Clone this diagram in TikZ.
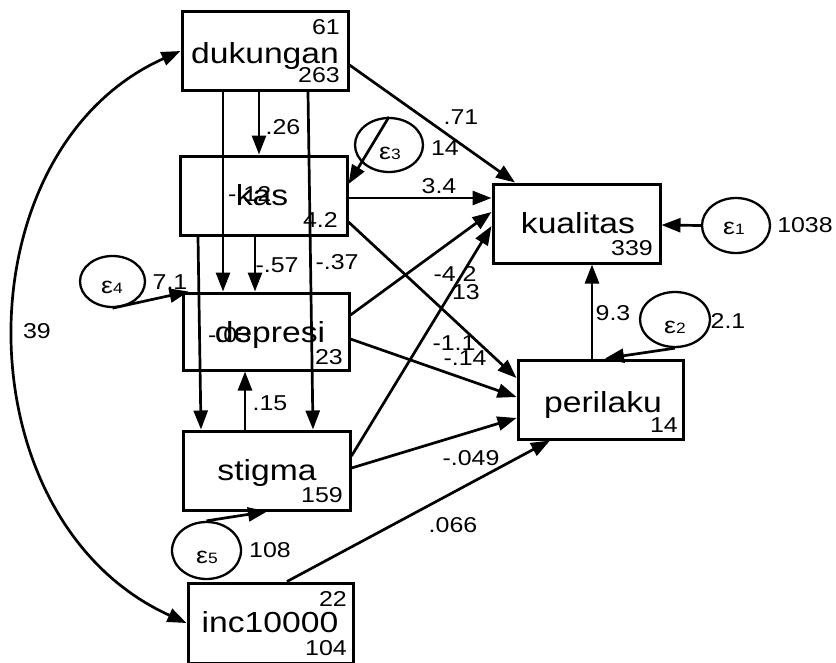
\documentclass[tikz,border=0pt]{standalone}
\usepackage{fontspec}
\setmainfont[FakeStretch=1.16]{Liberation Sans}
\usetikzlibrary{arrows.meta,shapes.geometric}
\begin{document}
\begin{tikzpicture}[x=1pt,y=-1pt,
  box/.style={draw,line width=3pt,inner sep=0pt,minimum width=166pt,minimum height=79pt},
  err/.style={draw,ellipse,line width=2.3pt,inner sep=0pt,minimum width=69pt,minimum height=55pt},
  vname/.style={inner sep=0pt,anchor=base,font=\fontsize{29}{32}\selectfont},
  num/.style={inner sep=0pt,anchor=base east,font=\fontsize{21.5}{24}\selectfont},
  coef/.style={inner sep=0pt,font=\fontsize{21.5}{24}\selectfont},
  elbl/.style={inner sep=0pt,anchor=base},
  path/.style={line width=2.7pt,-{Triangle[length=19pt,width=14pt]}},
  cov/.style={line width=2.7pt,{Triangle[length=19pt,width=14pt]}-{Triangle[length=19pt,width=14pt]}}
]
\useasboundingbox (0,0) rectangle (836,662);
\clip (0,0) rectangle (836,662);
\fill[white] (0,0) rectangle (836,662);

% observed variables
\node[box] (dukungan) at (265,51) {};
\node[box,minimum width=167pt] (kas) at (263.5,195.5) {};
\node[box,minimum height=77pt] (depresi) at (266,331.5) {};
\node[box,minimum width=167pt] (stigma) at (266.5,470.5) {};
\node[box,minimum width=165pt,minimum height=80pt] (inc) at (270.5,623) {};
\node[box,minimum width=167pt] (kualitas) at (576.5,223.5) {};
\node[box,minimum width=165pt] (perilaku) at (600.5,399.5) {};

% variable names
\node[vname] (dukunganT) at (265,63) {dukungan};
\node[vname] (kasT) at (262,205) {kas};
\node[vname] (depresiT) at (270,342) {depresi};
\node[vname] (stigmaT) at (267,480) {stigma};
\node[vname] (incT) at (270,632) {inc10000};
\node[vname] (kualitasT) at (578,233) {kualitas};
\node[vname] (perilakuT) at (603,412) {perilaku};

% means, intercepts and variances
\node[num] (dukM) at (340,34) {61};
\node[num] (dukV) at (340,82) {263};
\node[coef,anchor=base west] (kasI) at (228,201) {-.12};
\node[num] (kasV) at (338,227) {4.2};
\node[coef,anchor=base west] (depI) at (208,342) {-.03};
\node[num] (depV) at (343,364) {23};
\node[num] (stiV) at (343,502) {159};
\node[num] (incM) at (347,606) {22};
\node[num] (incV) at (347,655) {104};
\node[num] (kuaI) at (653,255) {339};
\node[num] (perI) at (678,432) {14};

% error terms
\node[err,minimum width=68pt] (e1) at (736,225.5) {};
\node[err,minimum width=70pt] (e2) at (675,319.5) {};
\node[err,minimum width=68pt,minimum height=54pt] (e3) at (389,145) {};
\node[err,minimum width=65pt,minimum height=51pt] (e4) at (112.5,281.5) {};
\node[err,minimum height=57pt] (e5) at (206.5,550.5) {};

\node[elbl] (e1T) at (734,234) {\fontsize{23}{26}\selectfont ε\fontsize{15}{18}\selectfont 1};
\node[elbl] (e2T) at (675,333) {\fontsize{23}{26}\selectfont ε\fontsize{15}{18}\selectfont 2};
\node[elbl] (e3T) at (390,159) {\fontsize{23}{26}\selectfont ε\fontsize{15}{18}\selectfont 3};
\node[elbl] (e4T) at (112,293) {\fontsize{23}{26}\selectfont ε\fontsize{15}{18}\selectfont 4};
\node[elbl] (e5T) at (207,563) {\fontsize{23}{26}\selectfont ε\fontsize{15}{18}\selectfont 5};

\node[coef] (e1V) at (805,225) {1038};
\node[coef] (e2V) at (728,321) {2.1};
\node[coef] (e3V) at (445,148) {14};
\node[coef] (e4V) at (170,282) {7.1};
\node[coef] (e5V) at (270,550) {108};

% structural paths
\draw[path] ([xshift=-6pt]dukungan.south) -- ([xshift=-4.5pt]kas.north);
\draw[path] ([xshift=-42pt]dukungan.south) -- ([xshift=-43pt]depresi.north);
\draw[path] ([xshift=43pt]dukungan.south) -- ([xshift=46.5pt]stigma.north);
\draw[path] ([xshift=-8.5pt]kas.south) -- ([xshift=-11pt]depresi.north);
\draw[path] ([xshift=-65.5pt]kas.south) -- ([xshift=-65.5pt]stigma.north);
\draw[path] ([xshift=-21.5pt]stigma.north) -- ([xshift=-21pt]depresi.south);
\draw[path] ([yshift=-14pt]dukungan.east) -- ([xshift=-61.5pt]kualitas.north);
\draw[path] ([yshift=-2.5pt]kas.east) -- ([yshift=25.5pt]kualitas.west);
\draw[path] ([yshift=-26.5pt]kas.east) -- ([yshift=21.5pt]perilaku.west);
\draw[path] ([yshift=16.5pt]depresi.east) -- ([yshift=11.5pt]kualitas.west);
\draw[path] ([yshift=-7.5pt]depresi.east) -- ([yshift=2.5pt]perilaku.west);
\draw[path] ([yshift=14.5pt]stigma.east) -- ([yshift=-2.5pt]kualitas.west);
\draw[path] ([yshift=2.5pt]stigma.east) -- ([yshift=-18.5pt]perilaku.west);
\draw[path] ([xshift=16.5pt]inc.north) -- ([xshift=-50.5pt]perilaku.south);
\draw[path] ([xshift=-8.5pt]perilaku.north) -- ([xshift=15.5pt]kualitas.south);

% error paths
\draw[path] (e1.west) -- ([yshift=-1.5pt]kualitas.east);
\draw[path] (e2.south) -- ([xshift=4.5pt]perilaku.north);
\draw[path] (e3.north) -- ([yshift=11.5pt]kas.east);
\draw[path] (e4.south) -- ([xshift=7pt]depresi.north west);
\draw[path] (e5.north) -- ([xshift=0.5pt]stigma.south);

% covariance
\draw[cov] (dukungan.west) .. controls (-41,150) and (-41,520) .. (inc.west);

% path coefficients
\node[coef] (c26) at (283,127) {.26};
\node[coef] (c71) at (461,117) {.71};
\node[coef] (c34) at (439,186) {3.4};
\node[coef] (c57) at (277,265) {-.57};
\node[coef] (c37) at (337,262) {-.37};
\node[coef] (c42) at (455,274) {-4.2};
\node[coef] (c13) at (466,292) {13};
\node[coef] (c11) at (454,343) {-1.1};
\node[coef] (c14) at (465,358) {-.14};
\node[coef] (c15) at (270,403) {.15};
\node[coef] (c93) at (613,313) {9.3};
\node[coef] (c049) at (471,458) {-.049};
\node[coef] (c066) at (453,525) {.066};
\node[coef] (c39) at (37,331) {39};
\end{tikzpicture}
\end{document}
